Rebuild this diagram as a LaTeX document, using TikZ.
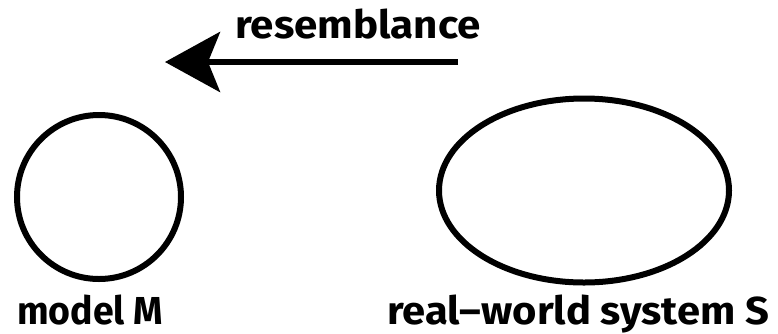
\documentclass[tikz,border=0pt]{standalone}
\usepackage{fontspec}
\setmainfont{Fira Sans}
\usetikzlibrary{arrows.meta}
\tikzset{
  shapeline/.style={line width=6pt, draw=black},
  lbl/.style={font=\fontsize{39}{44}\selectfont\bfseries, inner sep=0pt, anchor=base west},
  relarrow/.style={line width=6pt, -{Stealth[length=55pt, width=60pt, inset=12pt]}}
}
\begin{document}
\begin{tikzpicture}[x=1pt,y=-1pt]
\useasboundingbox (0,0) rectangle (778,333);
\draw[shapeline] (99,197) ellipse [x radius=82, y radius=82];
\draw[shapeline] (584,190.5) ellipse [x radius=145, y radius=92];
\node[lbl] (m) at (17,324) {\scalebox{0.96}[1]{model M}};
\node[lbl] (s) at (387,324) {\scalebox{1.07}[1]{real–world system S}};
\node[lbl] (r) at (235,38) {\scalebox{1.08}[1]{resemblance}};
\coordinate (a1) at (458,62);
\coordinate (a2) at (165,62);
\draw[relarrow] (a1) -- (a2);
\end{tikzpicture}
\end{document}
